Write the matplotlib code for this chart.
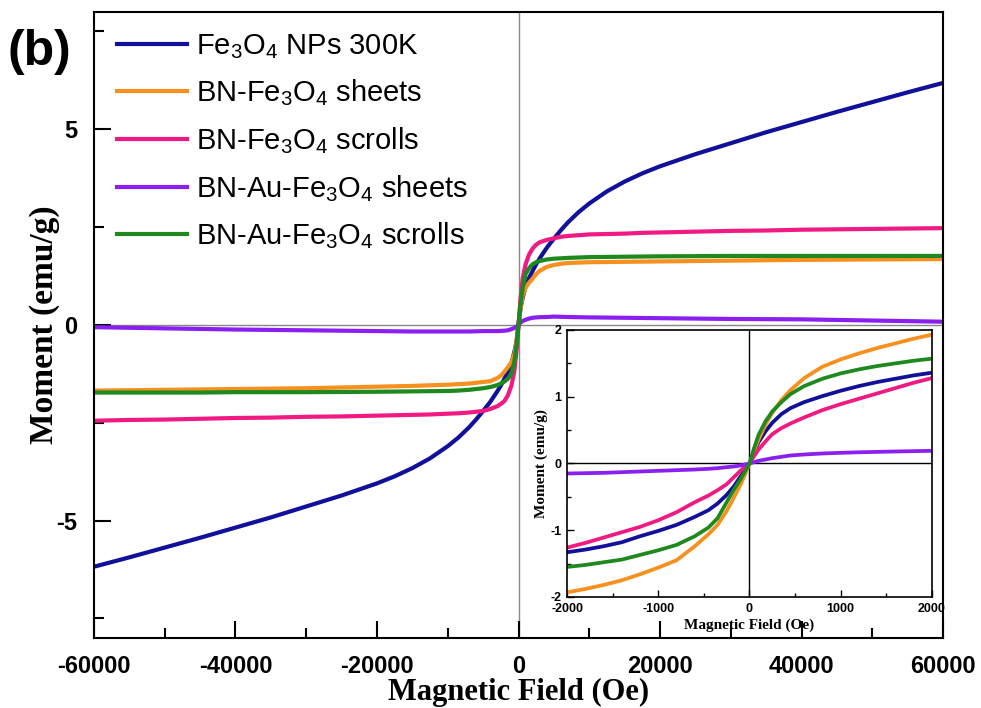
import numpy as np
import matplotlib
matplotlib.use("Agg")
import matplotlib.pyplot as plt
from matplotlib.ticker import MultipleLocator

plt.rcParams['font.family'] = ['Liberation Sans', 'DejaVu Sans']
plt.rcParams['mathtext.fontset'] = 'custom'
plt.rcParams['mathtext.rm'] = 'Liberation Sans'
plt.rcParams['axes.unicode_minus'] = False

# ---- main panel data (field in Oe, moment in emu/g)
field = [-60000, -55000, -50000, -45000, -40000, -35000, -30000, -25000, -20000, -17500,
         -15000, -12500, -10000, -8500, -7000, -6000, -5000, -4000, -3000, -2500,
         -2000, -1500, -1000, -600, -300, 0, 300, 600, 1000, 1500,
         2000, 2500, 3000, 4000, 5000, 6000, 7000, 8500, 10000, 12500,
         15000, 17500, 20000, 25000, 30000, 35000, 40000, 45000, 50000, 55000, 60000]

m_fe3o4 = [-6.18, -5.94, -5.69, -5.44, -5.18, -4.92, -4.64, -4.36, -4.05, -3.87,
           -3.66, -3.41, -3.1, -2.88, -2.62, -2.42, -2.2, -1.97, -1.7, -1.55,
           -1.38, -1.2, -0.98, -0.7, -0.45, 0.0, 0.45, 0.7, 0.98, 1.2,
           1.38, 1.55, 1.7, 1.97, 2.2, 2.42, 2.62, 2.88, 3.1, 3.41,
           3.66, 3.87, 4.05, 4.36, 4.64, 4.92, 5.18, 5.44, 5.69, 5.94, 6.18]
m_bn_sheets = [-1.68, -1.67, -1.66, -1.65, -1.64, -1.63, -1.62, -1.6, -1.58, -1.57,
               -1.56, -1.545, -1.53, -1.515, -1.5, -1.48, -1.46, -1.44, -1.36, -1.3,
               -1.2, -1.08, -0.95, -0.75, -0.45, 0.0, 0.45, 0.75, 0.95, 1.08,
               1.18, 1.3, 1.38, 1.48, 1.53, 1.56, 1.58, 1.59, 1.6, 1.605,
               1.61, 1.615, 1.62, 1.63, 1.64, 1.65, 1.66, 1.665, 1.67, 1.675, 1.68]
m_bn_scrolls = [-2.45, -2.43, -2.42, -2.4, -2.38, -2.37, -2.35, -2.34, -2.32, -2.31,
                -2.3, -2.29, -2.27, -2.26, -2.24, -2.22, -2.2, -2.15, -2.08, -2.02,
                -1.95, -1.8, -1.55, -1.2, -0.7, 0.0, 0.7, 1.2, 1.55, 1.8,
                1.95, 2.05, 2.11, 2.17, 2.21, 2.25, 2.27, 2.29, 2.31, 2.32,
                2.33, 2.35, 2.36, 2.38, 2.4, 2.41, 2.43, 2.44, 2.45, 2.46, 2.47]
m_au_sheets = [-0.06, -0.075, -0.09, -0.105, -0.12, -0.13, -0.14, -0.15, -0.16, -0.165,
               -0.17, -0.17, -0.17, -0.17, -0.17, -0.165, -0.16, -0.16, -0.16, -0.155,
               -0.15, -0.14, -0.11, -0.08, -0.05, 0.0, 0.06, 0.1, 0.13, 0.16,
               0.18, 0.19, 0.195, 0.2, 0.21, 0.205, 0.2, 0.195, 0.19, 0.185,
               0.18, 0.175, 0.17, 0.16, 0.15, 0.145, 0.14, 0.125, 0.11, 0.095, 0.08]
m_au_scrolls = [-1.73, -1.73, -1.73, -1.73, -1.72, -1.72, -1.72, -1.715, -1.71, -1.705,
                -1.7, -1.695, -1.69, -1.68, -1.66, -1.64, -1.62, -1.59, -1.54, -1.5,
                -1.45, -1.38, -1.25, -0.95, -0.55, 0.0, 0.55, 0.95, 1.3, 1.45,
                1.55, 1.6, 1.63, 1.67, 1.69, 1.7, 1.71, 1.72, 1.73, 1.735,
                1.74, 1.745, 1.75, 1.755, 1.76, 1.76, 1.76, 1.76, 1.76, 1.76, 1.76]

# ---- inset data (low field)
field_low = [-2000, -1800, -1600, -1400, -1200, -1000, -800, -600, -450, -350, -250, -175, -100, -50,
             0, 50, 100, 175, 250, 350, 450, 600, 800, 1000, 1200, 1400, 1600, 1800, 2000]
low_fe3o4 = [-1.33, -1.29, -1.24, -1.18, -1.09, -1.01, -0.92, -0.8, -0.7, -0.6, -0.47, -0.35, -0.2, -0.1,
             0.0, 0.17, 0.32, 0.48, 0.61, 0.74, 0.83, 0.92, 1.01, 1.09, 1.16, 1.22, 1.27, 1.32, 1.36]
low_bn_sheets = [-1.93, -1.88, -1.82, -1.75, -1.66, -1.56, -1.45, -1.24, -1.06, -0.92, -0.71, -0.52, -0.32, -0.17,
                 0.0, 0.19, 0.36, 0.58, 0.76, 0.95, 1.1, 1.28, 1.45, 1.56, 1.65, 1.73, 1.8, 1.87, 1.93]
low_bn_scrolls = [-1.26, -1.19, -1.11, -1.03, -0.95, -0.85, -0.73, -0.58, -0.48, -0.4, -0.31, -0.21, -0.11, -0.05,
                  0.0, 0.11, 0.21, 0.33, 0.44, 0.53, 0.6, 0.69, 0.8, 0.89, 0.97, 1.05, 1.13, 1.21, 1.28]
low_au_sheets = [-0.15, -0.145, -0.14, -0.13, -0.12, -0.11, -0.1, -0.09, -0.08, -0.07, -0.055, -0.045, -0.03, -0.015,
                 0.0, 0.02, 0.04, 0.06, 0.08, 0.1, 0.12, 0.135, 0.15, 0.16, 0.168, 0.174, 0.18, 0.185, 0.19]
low_au_scrolls = [-1.55, -1.52, -1.48, -1.44, -1.37, -1.3, -1.22, -1.09, -0.96, -0.82, -0.58, -0.4, -0.24, -0.12,
                  0.0, 0.23, 0.43, 0.63, 0.78, 0.92, 1.04, 1.16, 1.27, 1.35, 1.41, 1.46, 1.5, 1.54, 1.57]

labels = [r'Fe$_\mathregular{3}$O$_\mathregular{4}$ NPs 300K',
          r'BN-Fe$_\mathregular{3}$O$_\mathregular{4}$ sheets',
          r'BN-Fe$_\mathregular{3}$O$_\mathregular{4}$ scrolls',
          r'BN-Au-Fe$_\mathregular{3}$O$_\mathregular{4}$ sheets',
          r'BN-Au-Fe$_\mathregular{3}$O$_\mathregular{4}$ scrolls']
colors = ['#10109a', '#f7901e', '#f01a82', '#8a1ff0', '#1e8a1e']

main_data = [m_fe3o4, m_bn_sheets, m_bn_scrolls, m_au_sheets, m_au_scrolls]
low_data = [low_fe3o4, low_bn_sheets, low_bn_scrolls, low_au_sheets, low_au_scrolls]

serif = ['Liberation Serif', 'DejaVu Serif']

fig = plt.figure(figsize=(9.81, 7.08), dpi=100)
ax = fig.add_axes([0.0958, 0.0989, 0.8655, 0.8846])

ax.axhline(0, color='#888888', lw=1.0, zorder=1)
ax.axvline(0, color='#888888', lw=1.0, zorder=1)
for y, c, lab in zip(main_data, colors, labels):
    ax.plot(field, y, color=c, lw=3.0, label=lab, zorder=2)

ax.set_xlim(-60000, 60000)
ax.set_ylim(-8, 8)
ax.xaxis.set_major_locator(MultipleLocator(20000))
ax.xaxis.set_minor_locator(MultipleLocator(10000))
ax.yaxis.set_major_locator(MultipleLocator(5))
ax.yaxis.set_minor_locator(MultipleLocator(2.5))
ax.tick_params(which='both', direction='in', top=False, right=False, width=1.5)
ax.tick_params(which='major', length=12)
ax.tick_params(which='minor', length=7)
ax.tick_params(axis='x', which='major', pad=12, labelsize=17)
ax.tick_params(axis='y', which='major', pad=12, labelsize=17)
for t in ax.get_xticklabels() + ax.get_yticklabels():
    t.set_fontweight('bold')
for s in ax.spines.values():
    s.set_linewidth(1.5)

ax.set_xlabel('Magnetic Field (Oe)', family=serif, fontweight='bold', fontsize=22, labelpad=0)
ax.set_ylabel('Moment (emu/g)', family=serif, fontweight='bold', fontsize=24, labelpad=-3)

ax.legend(loc='upper left', bbox_to_anchor=(0.027, 0.968), frameon=False, fontsize=21,
          handlelength=2.4, handletextpad=0.3, labelspacing=0.58, borderpad=0, borderaxespad=0)

fig.text(0.008, 0.926, '(b)', fontsize=36, fontweight='bold', va='center', ha='left')

# ---- inset
ins = fig.add_axes([0.578, 0.1568, 0.372, 0.3771])
ins.set_facecolor('white')
ins.axhline(0, color='black', lw=1.0, zorder=1)
ins.axvline(0, color='black', lw=1.0, zorder=1)
for y, c in zip(low_data, colors):
    ins.plot(field_low, y, color=c, lw=2.7, zorder=2)
ins.set_xlim(-2000, 2000)
ins.set_ylim(-2, 2)
ins.xaxis.set_major_locator(MultipleLocator(1000))
ins.xaxis.set_minor_locator(MultipleLocator(500))
ins.yaxis.set_major_locator(MultipleLocator(1))
ins.yaxis.set_minor_locator(MultipleLocator(0.5))
ins.tick_params(which='both', direction='in', top=False, right=False, labelsize=9, width=1.0)
ins.tick_params(which='major', length=5, pad=4)
ins.tick_params(which='minor', length=3)
for t in ins.get_xticklabels() + ins.get_yticklabels():
    t.set_fontweight('bold')
for s in ins.spines.values():
    s.set_linewidth(1.2)
ins.set_xlabel('Magnetic Field (Oe)', family=serif, fontweight='bold', fontsize=11, labelpad=3)
ins.set_ylabel('Moment (emu/g)', family=serif, fontweight='bold', fontsize=11, labelpad=2)

fig.savefig('out.png', dpi=100)
